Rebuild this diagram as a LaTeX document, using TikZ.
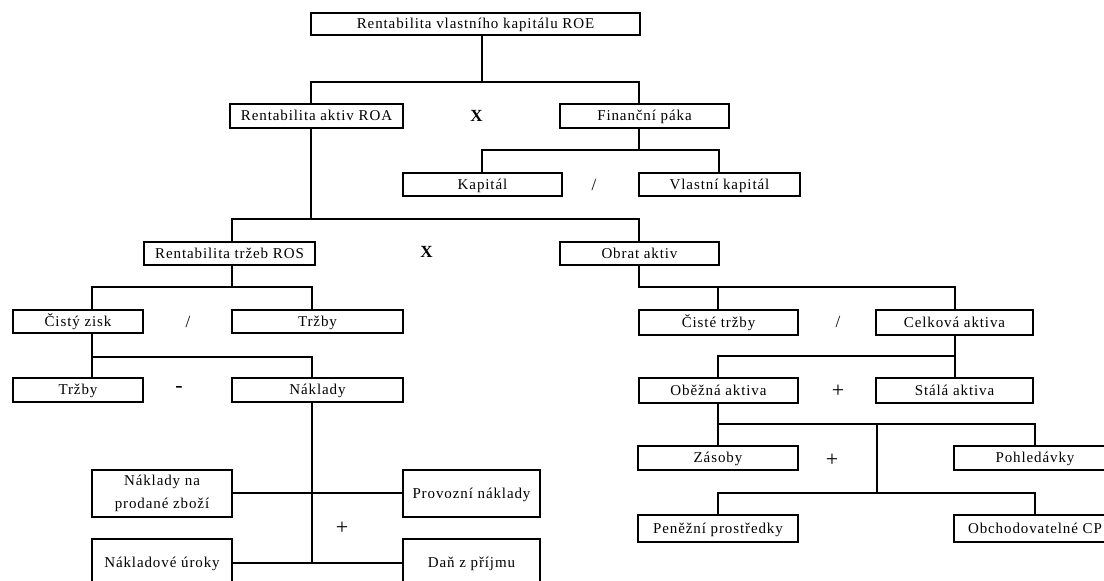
\documentclass[tikz,border=0pt]{standalone}
\usepackage{fontspec}
\setmainfont{Liberation Serif}[LetterSpace=6]
\usetikzlibrary{calc}
\tikzset{
  box/.style={draw, line width=2.6pt, inner sep=0pt, outer sep=0pt, fill=white,
    align=center, text height=12pt, text depth=2.6pt, font=\fontsize{15}{15.5}\selectfont},
  conn/.style={line width=1.3pt},
  op/.style={inner sep=0pt},
  opsmall/.style={op, font=\fontsize{17}{18}\selectfont},
  opbig/.style={op, font=\fontsize{22}{23}\selectfont}
}
\newcommand\bx[7][]{%
  \node[box, minimum width={(#5-#3)*1pt}, minimum height={(#6-#4)*1pt}, #1]
    (#2) at ({(#3+#5)/2},{(#4+#6)/2}) {#7};}
\begin{document}
\begin{tikzpicture}[x=1pt,y=-1pt]
\clip (0,0) rectangle (1104,581);
\fill[white] (0,0) rectangle (1104,581);
% boxes
\bx{roe}{311}{13}{640}{35}{Rentabilita vlastního kapitálu ROE}
\bx{roa}{230}{104}{403}{128}{Rentabilita aktiv ROA}
\bx{fin}{560}{104}{729}{128}{Finanční páka}
\bx{kap}{403}{173}{562}{196}{Kapitál}
\bx{vk}{639}{173}{800}{196}{Vlastní kapitál}
\bx{ros}{144}{242}{315}{265}{Rentabilita tržeb ROS}
\bx{obr}{560}{242}{719}{265}{Obrat aktiv}
\bx{cz}{13}{310}{143}{333}{Čistý zisk}
\bx{trz}{232}{310}{403}{333}{Tržby}
\bx{trzb}{13}{378}{143}{402}{Tržby}
\bx{nakl}{232}{378}{403}{402}{Náklady}
\bx[text height=, text depth=, font=\fontsize{15}{22.5}\selectfont]{npz}{92}{470}{232}{517}{Náklady na\\prodané zboží}
\bx{prov}{403}{470}{540}{517}{Provozní náklady}
\bx{uroky}{92}{539}{232}{587}{Nákladové úroky}
\bx{dan}{403}{539}{540}{587}{Daň z příjmu}
\bx{ct}{639}{310}{798}{335}{Čisté tržby}
\bx{ca}{876}{310}{1033}{335}{Celková aktiva}
\bx{ob}{639}{378}{798}{403}{Oběžná aktiva}
\bx{st}{876}{378}{1033}{403}{Stálá aktiva}
\bx{zas}{638}{446}{798}{470}{Zásoby}
\bx{poh}{954}{446}{1116}{470}{Pohledávky}
\bx{pp}{638}{515}{798}{542}{Peněžní prostředky}
\bx{ocp}{954}{515}{1116}{542}{Obchodovatelné CP}
% operators
\node[opsmall] (o1) at (477,116) {\textbf{X}};
\node[opsmall] (o2) at (594,185) {/};
\node[opsmall] (o3) at (427,252) {\textbf{X}};
\node[opsmall] (o4) at (188,322) {/};
\node[opbig] (o5) at (179,389) {-};
\node[opbig] (o6) at (342,528) {+};
\node[opsmall] (o7) at (838,322) {/};
\node[opbig] (o8) at (838,391) {+};
\node[opbig] (o9) at (832,460) {+};
% junction coordinates
\coordinate (a) at (482,82);  \coordinate (aL) at (311,82);  \coordinate (aR) at (639,82);
\coordinate (b) at (639,150); \coordinate (bL) at (482,150); \coordinate (bR) at (719,150);
\coordinate (c) at (311,219); \coordinate (cL) at (232,219); \coordinate (cR) at (639,219);
\coordinate (d) at (232,287); \coordinate (dL) at (92,287);  \coordinate (dR) at (312,287);
\coordinate (eL) at (92,357); \coordinate (eR) at (312,357);
\coordinate (f1) at (312,493); \coordinate (f2) at (312,563);
\coordinate (g) at (639,287); \coordinate (gM) at (718,287); \coordinate (gR) at (955,287);
\coordinate (hL) at (718,356); \coordinate (hR) at (955,356);
\coordinate (iL) at (718,424); \coordinate (iM) at (877,424); \coordinate (iR) at (1035,424);
\coordinate (jL) at (718,493); \coordinate (jM) at (877,493); \coordinate (jR) at (1035,493);
% connectors
\draw[conn] (roe.south -| a) -- (a);
\draw[conn] (roa.north -| aL) -- (aL) -- (aR) -- (fin.north -| aR);
\draw[conn] (fin.south -| b) -- (b);
\draw[conn] (kap.north -| bL) -- (bL) -- (bR) -- (vk.north -| bR);
\draw[conn] (roa.south -| c) -- (c);
\draw[conn] (ros.north -| cL) -- (cL) -- (cR) -- (obr.north -| cR);
\draw[conn] (ros.south -| d) -- (d);
\draw[conn] (cz.north -| dL) -- (dL) -- (dR) -- (trz.north -| dR);
\draw[conn] (cz.south -| eL) -- (trzb.north -| eL);
\draw[conn] (eL) -- (eR) -- (nakl.north -| eR);
\draw[conn] (nakl.south -| f1) -- (f2);
\draw[conn] (npz.east |- f1) -- (prov.west |- f1);
\draw[conn] (uroky.east |- f2) -- (dan.west |- f2);
\draw[conn] (obr.south -| g) -- (g) -- (gR) -- (ca.north -| gR);
\draw[conn] (gM) -- (ct.north -| gM);
\draw[conn] (ca.south -| hR) -- (st.north -| hR);
\draw[conn] (hR) -- (hL) -- (ob.north -| hL);
\draw[conn] (ob.south -| iL) -- (zas.north -| iL);
\draw[conn] (iL) -- (iR) -- (poh.north -| iR);
\draw[conn] (iM) -- (jM);
\draw[conn] (pp.north -| jL) -- (jL) -- (jR) -- (ocp.north -| jR);
\end{tikzpicture}
\end{document}
